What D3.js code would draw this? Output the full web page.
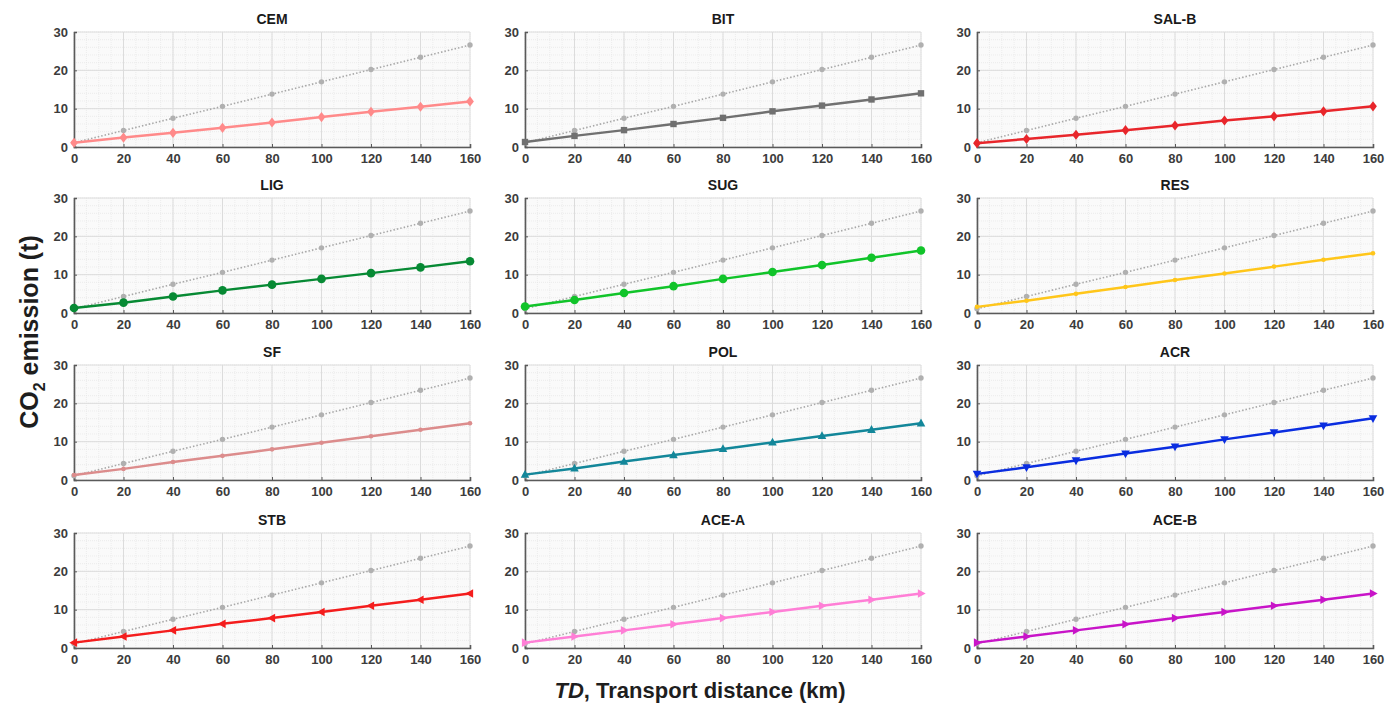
<!DOCTYPE html>
<html>
<head>
<meta charset="utf-8">
<script src="https://cdn.jsdelivr.net/npm/d3@7"></script>
<style>
  body { margin: 0; background: #fff; }
  svg { font-family: "Liberation Sans", Arial, sans-serif; }
</style>
</head>
<body>
<div class="chart"></div>
<script>
// transport distances (km)
const distances = [0, 20, 40, 60, 80, 100, 120, 140, 160];
const xTicks = [0, 20, 40, 60, 80, 100, 120, 140, 160];
const yTicks = [0, 10, 20, 30];

// grey dotted reference line drawn in every panel
const reference = [1.1, 4.3, 7.5, 10.6, 13.8, 17.0, 20.2, 23.4, 26.6];

const names = ['CEM', 'BIT', 'SAL-B', 'LIG', 'SUG', 'RES', 'SF', 'POL', 'ACR', 'STB', 'ACE-A', 'ACE-B'];
const cem  = [1.1, 2.45, 3.7, 5.0, 6.4, 7.8, 9.2, 10.5, 11.9];
const bit  = [1.3, 2.9, 4.4, 6.0, 7.6, 9.3, 10.8, 12.4, 14.0];
const salb = [1.0, 2.1, 3.2, 4.4, 5.6, 6.9, 8.0, 9.3, 10.6];
const lig  = [1.3, 2.7, 4.3, 5.9, 7.4, 8.9, 10.4, 11.9, 13.5];
const sug  = [1.7, 3.4, 5.2, 7.0, 8.9, 10.7, 12.5, 14.4, 16.3];
const res  = [1.6, 3.2, 5.0, 6.8, 8.6, 10.3, 12.1, 13.9, 15.6];
const sf   = [1.3, 2.9, 4.7, 6.3, 8.0, 9.7, 11.4, 13.1, 14.8];
const pol  = [1.4, 3.0, 4.8, 6.5, 8.1, 9.8, 11.5, 13.1, 14.8];
const acr  = [1.6, 3.3, 5.1, 6.9, 8.7, 10.6, 12.4, 14.2, 16.1];
const stb  = [1.4, 3.0, 4.6, 6.3, 7.8, 9.4, 11.0, 12.6, 14.2];
const acea = [1.4, 3.0, 4.6, 6.2, 7.8, 9.4, 11.0, 12.6, 14.2];
const aceb = [1.4, 3.0, 4.6, 6.2, 7.8, 9.4, 11.0, 12.6, 14.2];

const seriesValues = [cem, bit, salb, lig, sug, res, sf, pol, acr, stb, acea, aceb];
const colors = ['#ff8a8a', '#707070', '#e8262b', '#078a34', '#11c42a', '#ffc61a',
                '#dc8c8c', '#13879a', '#0a2de0', '#f41d1d', '#ff7ed6', '#c814c8'];
const markers = ['diamond', 'square', 'diamond', 'circle', 'circle', 'dot',
                 'dot', 'up', 'down', 'left', 'right', 'right'];

const width = 1397, height = 705;
const colLeft = [74, 525, 977];
const rowTop = [32, 198, 365, 533];
const pw = 396, ph = 115;

const svg = d3.select('.chart').append('svg')
  .attr('width', width).attr('height', height);

function markerPath(type, size) {
  const s = size;
  if (type === 'diamond') return `M0,${-s*1.3}L${s},0L0,${s*1.3}L${-s},0Z`;
  if (type === 'square') return `M${-s},${-s}H${s}V${s}H${-s}Z`;
  if (type === 'up') return `M0,${-s*1.2}L${s*1.1},${s*0.8}L${-s*1.1},${s*0.8}Z`;
  if (type === 'down') return `M0,${s*1.2}L${s*1.1},${-s*0.8}L${-s*1.1},${-s*0.8}Z`;
  if (type === 'left') return `M${-s*1.2},0L${s*0.8},${-s*1.1}L${s*0.8},${s*1.1}Z`;
  if (type === 'right') return `M${s*1.2},0L${-s*0.8},${-s*1.1}L${-s*0.8},${s*1.1}Z`;
  return null;
}

names.forEach((name, i) => {
  const col = i % 3, row = Math.floor(i / 3);
  const g = svg.append('g')
    .attr('transform', `translate(${colLeft[col]},${rowTop[row]})`);

  const x = d3.scaleLinear().domain([0, 160]).range([0, pw]);
  const y = d3.scaleLinear().domain([0, 30]).range([ph, 0]);

  g.append('rect').attr('width', pw).attr('height', ph).attr('fill', '#fafafa');

  // minor grid
  g.selectAll('.xminor').data(d3.range(0, 161, 5)).enter().append('line')
    .attr('x1', d => x(d)).attr('x2', d => x(d)).attr('y1', 0).attr('y2', ph)
    .attr('stroke', '#e6e6e6').attr('stroke-width', 0.7).attr('stroke-dasharray', '1,1');
  g.selectAll('.yminor').data(d3.range(0, 31, 2)).enter().append('line')
    .attr('x1', 0).attr('x2', pw).attr('y1', d => y(d)).attr('y2', d => y(d))
    .attr('stroke', '#e6e6e6').attr('stroke-width', 0.7).attr('stroke-dasharray', '1,1');
  // major grid
  g.selectAll('.xmajor').data(xTicks).enter().append('line')
    .attr('x1', d => x(d)).attr('x2', d => x(d)).attr('y1', 0).attr('y2', ph)
    .attr('stroke', '#dcdcdc').attr('stroke-width', 1);
  g.selectAll('.ymajor').data(yTicks).enter().append('line')
    .attr('x1', 0).attr('x2', pw).attr('y1', d => y(d)).attr('y2', d => y(d))
    .attr('stroke', '#dcdcdc').attr('stroke-width', 1);

  // axes
  const xAxis = g.append('g').attr('transform', `translate(0,${ph})`)
    .call(d3.axisBottom(x).tickValues(xTicks).tickSize(-3).tickPadding(7));
  const yAxis = g.append('g')
    .call(d3.axisLeft(y).tickValues(yTicks).tickSize(-3).tickPadding(6));
  [xAxis, yAxis].forEach(a => {
    a.select('.domain').attr('stroke', '#5a5a5a').attr('stroke-width', 1.6);
    a.selectAll('.tick line').attr('stroke', '#5a5a5a');
    a.selectAll('text').attr('font-size', 13).attr('font-weight', 'bold')
      .attr('fill', '#3c3c3c').attr('font-family', '"Liberation Sans", Arial, sans-serif');
  });

  const line = d3.line().x((d, k) => x(distances[k])).y(d => y(d));

  // reference
  g.append('path').datum(reference).attr('d', line)
    .attr('fill', 'none').attr('stroke', '#a8a8a8').attr('stroke-width', 1.6)
    .attr('stroke-dasharray', '1.5,2');
  g.selectAll('.ref').data(reference).enter().append('circle')
    .attr('cx', (d, k) => x(distances[k])).attr('cy', d => y(d)).attr('r', 2.7)
    .attr('fill', '#b0b0b0');

  // series
  const vals = seriesValues[i];
  g.append('path').datum(vals).attr('d', line)
    .attr('fill', 'none').attr('stroke', colors[i]).attr('stroke-width', 2.5);

  const m = markers[i];
  if (m === 'circle' || m === 'dot') {
    g.selectAll('.mk').data(vals).enter().append('circle')
      .attr('cx', (d, k) => x(distances[k])).attr('cy', d => y(d))
      .attr('r', m === 'circle' ? 4.3 : 2.3)
      .attr('fill', colors[i]);
  } else {
    g.selectAll('.mk').data(vals).enter().append('path')
      .attr('transform', (d, k) => `translate(${x(distances[k])},${y(d)})`)
      .attr('d', markerPath(m, m === 'square' ? 3.2 : 3.9))
      .attr('fill', colors[i]);
  }

  // title
  g.append('text').attr('x', pw / 2).attr('y', -8)
    .attr('text-anchor', 'middle').attr('font-size', 14).attr('font-weight', 'bold')
    .attr('fill', '#1a1a1a').text(name);
});

// y-axis label
const yl = svg.append('text')
  .attr('transform', 'translate(38,332) rotate(-90)')
  .attr('text-anchor', 'middle').attr('font-size', 25).attr('font-weight', 'bold')
  .attr('fill', '#1e1e1e');
yl.append('tspan').text('CO');
yl.append('tspan').attr('font-size', 16).attr('dy', 7).text('2');
yl.append('tspan').attr('dy', -7).text(' emission (t)');

// x-axis label
const xl = svg.append('text')
  .attr('x', 700).attr('y', 698)
  .attr('text-anchor', 'middle').attr('font-size', 22).attr('font-weight', 'bold')
  .attr('fill', '#1e1e1e');
xl.append('tspan').attr('font-style', 'italic').text('TD');
xl.append('tspan').text(', Transport distance (km)');
</script>
</body>
</html>
